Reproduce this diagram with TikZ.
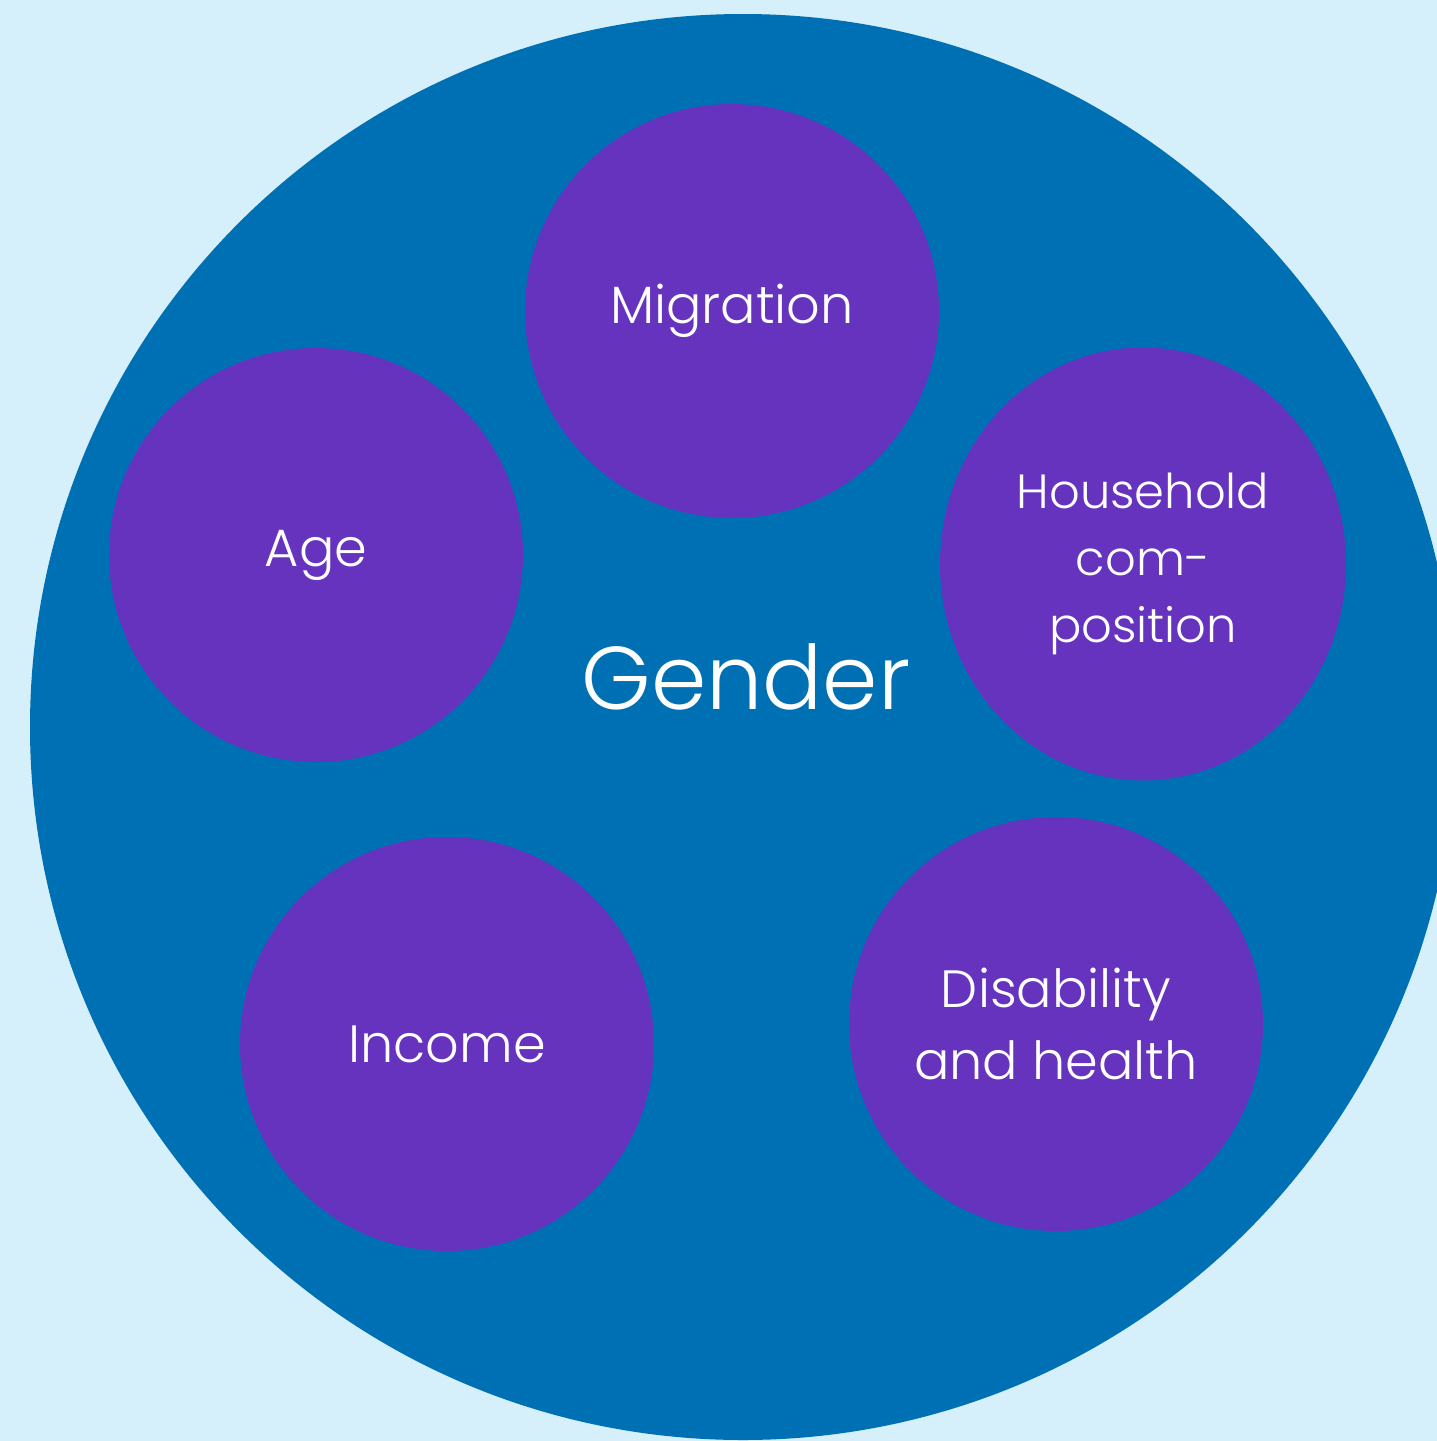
\documentclass[tikz,border=0pt]{standalone}
\usepackage{fontspec}
\usetikzlibrary{shapes.geometric}
\setmainfont{Poppins}[UprightFont=* Light]
\definecolor{bgblue}{HTML}{D6F0FB}
\definecolor{bigblue}{HTML}{0070B5}
\definecolor{purp}{HTML}{6633BF}
\tikzset{
  factor/.style={circle, fill=purp, minimum size=414pt, inner sep=0pt, text=white,
    align=center, font=\fontsize{52.5}{72}\selectfont},
}
\begin{document}
\begin{tikzpicture}[x=1pt,y=-1pt]
\useasboundingbox (0,0) rectangle (1437,1441);
\clip (0,0) rectangle (1437,1441);
\fill[bgblue] (0,0) rectangle (1437,1441);
\node[circle, fill=bigblue, minimum size=1426pt, inner sep=0pt] (outer) at (743,727) {};
\node[text=white, font=\fontsize{89}{100}\selectfont] (gender) at (746,677) {Gender};
\node[factor] (migration) at (732,311) {Migration};
\node[factor] (age) at (316,555) {Age};
\node[factor, ellipse, minimum width=406pt, minimum height=433pt,
  font=\fontsize{48}{67}\selectfont] (household) at (1143,564) {Household\\com-\\position};
\node[factor] (income) at (447,1044) {Income};
\node[factor] (disability) at (1056,1024) {Disability\\and health};
\end{tikzpicture}
\end{document}
